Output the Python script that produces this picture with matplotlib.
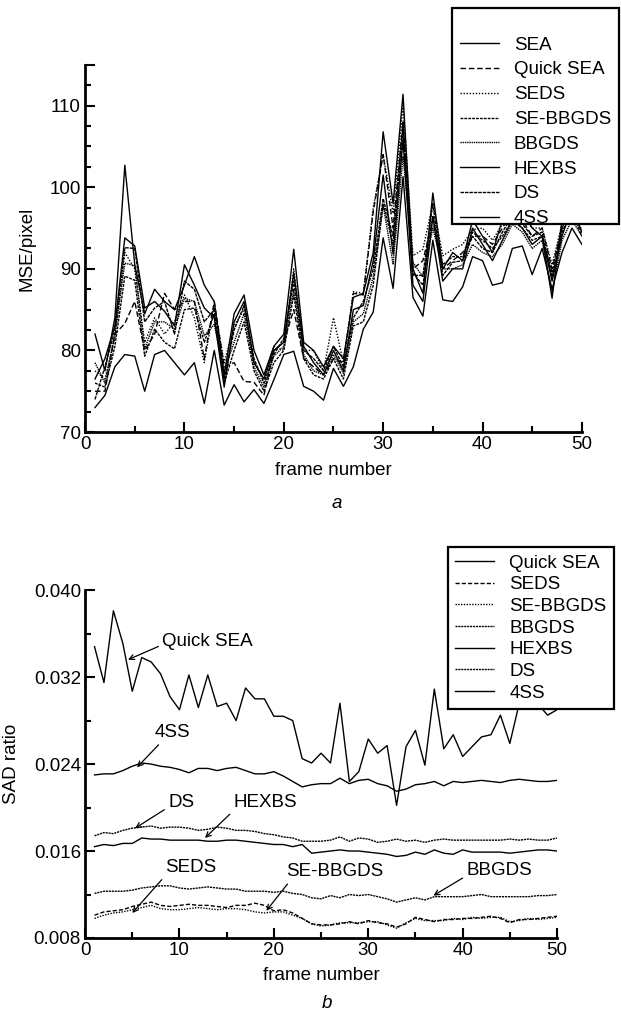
#!/usr/bin/env python3
# -*- coding: utf-8 -*-
import matplotlib
matplotlib.use('Agg')
import matplotlib.pyplot as plt
from matplotlib.patches import Rectangle
from matplotlib.ticker import MultipleLocator

plt.rcParams['font.family'] = ['Liberation Sans', 'DejaVu Sans']
plt.rcParams['font.size'] = 13.5

frames = list(range(1, 51))

# --- panel a: MSE/pixel per frame
mse_labels = ['SEA', 'Quick SEA', 'SEDS', 'SE-BBGDS', 'BBGDS', 'HEXBS', 'DS', '4SS']

mse_sea = [73.0, 74.5, 78.0, 79.5, 79.3, 75.0, 79.5, 80.0, 78.5, 77.0,
           78.5, 73.5, 80.0, 73.3, 75.8, 73.7, 75.2, 73.5, 76.4, 79.5,
           79.9, 75.6, 75.0, 73.9, 77.8, 75.6, 78.0, 82.6, 84.7, 93.8,
           87.6, 101.3, 86.5, 84.2, 93.5, 86.2, 86.0, 87.8, 91.5, 91.0,
           88.0, 88.3, 92.5, 92.8, 89.3, 92.5, 87.5, 92.0, 95.0, 93.0]
mse_quick_sea = [75.0, 75.0, 82.0, 83.3, 86.0, 80.0, 82.0, 87.0, 85.0, 86.0,
                 86.0, 79.0, 86.0, 78.0, 78.5, 76.2, 76.1, 74.5, 80.0, 81.0,
                 85.0, 79.0, 78.0, 77.0, 79.0, 78.5, 87.0, 86.8, 97.0, 104.0,
                 95.0, 108.0, 90.0, 91.0, 96.0, 90.0, 91.0, 92.0, 94.0, 94.0,
                 93.0, 95.0, 97.0, 96.0, 94.0, 95.0, 90.0, 95.0, 97.0, 95.0]
mse_seds = [77.5, 76.5, 81.5, 92.0, 90.0, 81.0, 84.0, 82.0, 83.5, 86.8,
            84.0, 78.5, 85.5, 78.5, 83.0, 85.0, 78.5, 76.5, 80.5, 80.0,
            90.0, 80.0, 80.0, 77.5, 84.0, 78.5, 87.2, 87.0, 97.5, 104.0,
            96.8, 110.0, 91.6, 92.4, 98.0, 91.6, 92.4, 93.0, 94.8, 95.0,
            93.5, 95.5, 97.0, 96.5, 95.0, 95.0, 90.5, 95.5, 98.0, 95.5]
mse_se_bbgds = [76.0, 75.5, 80.5, 89.1, 88.6, 79.3, 82.6, 81.0, 80.2, 85.0,
                85.2, 81.0, 84.5, 76.0, 80.0, 83.5, 77.5, 75.0, 78.5, 80.0,
                86.8, 79.0, 77.0, 76.5, 79.0, 76.5, 83.0, 83.5, 88.0, 98.0,
                93.0, 107.0, 89.5, 88.0, 96.5, 90.5, 91.5, 91.5, 94.5, 93.5,
                92.5, 94.0, 96.0, 95.0, 93.5, 94.0, 89.5, 95.0, 97.5, 94.5]
mse_bbgds = [78.5, 76.0, 82.0, 90.7, 90.4, 80.2, 83.5, 83.5, 82.6, 86.4,
             86.0, 81.8, 83.2, 77.5, 81.0, 84.5, 78.0, 75.5, 79.3, 80.5,
             87.5, 79.5, 77.5, 77.0, 79.5, 77.2, 83.5, 84.5, 89.0, 97.8,
             90.6, 103.8, 90.8, 89.0, 95.0, 90.0, 90.0, 90.5, 93.0, 92.0,
             91.5, 93.0, 95.5, 94.5, 92.5, 93.5, 87.0, 93.5, 96.0, 94.0]
mse_hexbs = [76.5, 79.0, 83.0, 93.8, 92.8, 85.2, 86.0, 84.8, 83.0, 90.5,
             88.0, 85.2, 84.0, 75.5, 83.5, 86.0, 78.5, 76.5, 80.0, 81.0,
             89.5, 80.5, 78.5, 77.0, 80.0, 77.5, 85.0, 85.5, 91.0, 101.5,
             91.8, 105.8, 88.0, 86.0, 96.4, 88.5, 90.0, 90.0, 95.0, 93.0,
             91.0, 93.5, 96.0, 95.0, 93.0, 94.0, 88.5, 94.0, 97.5, 94.5]
mse_ds = [74.0, 78.0, 82.5, 92.6, 92.5, 83.5, 85.2, 86.0, 82.0, 88.5,
          87.5, 83.5, 85.0, 76.5, 82.5, 85.5, 79.0, 76.0, 79.5, 81.5,
          88.5, 80.0, 79.0, 77.5, 80.5, 78.0, 84.0, 86.0, 90.0, 98.6,
          94.0, 107.9, 89.2, 89.2, 98.0, 89.2, 90.8, 91.0, 94.0, 92.5,
          92.0, 94.5, 96.5, 95.5, 94.0, 94.5, 89.0, 94.5, 97.0, 94.0]
mse_4ss = [82.0, 77.5, 84.0, 102.7, 90.5, 84.5, 87.5, 86.0, 85.0, 88.0,
           91.5, 88.0, 86.0, 77.0, 84.5, 86.8, 80.0, 77.0, 80.5, 82.0,
           92.4, 81.0, 80.0, 78.0, 80.5, 79.0, 86.5, 87.0, 92.0, 106.8,
           98.0, 111.4, 90.0, 87.0, 99.3, 90.0, 92.0, 91.0, 96.0, 94.0,
           92.0, 96.0, 98.0, 97.0, 95.0, 94.0, 86.4, 96.0, 99.0, 96.0]

# --- panel b: SAD ratio per frame
sad_labels = ['Quick SEA', 'SEDS', 'SE-BBGDS', 'BBGDS', 'HEXBS', 'DS', '4SS']

sad_quick_sea = [0.0348, 0.0315, 0.0381, 0.0351, 0.0307, 0.0338, 0.0334, 0.0323, 0.0302, 0.0290,
                 0.0322, 0.0292, 0.0322, 0.0293, 0.0296, 0.0280, 0.0310, 0.0300, 0.0300, 0.0284,
                 0.0284, 0.0280, 0.0245, 0.0241, 0.0250, 0.0241, 0.0296, 0.0224, 0.0233, 0.0263,
                 0.0250, 0.0257, 0.0202, 0.0256, 0.0271, 0.0239, 0.0309, 0.0254, 0.0267, 0.0247,
                 0.0256, 0.0265, 0.0267, 0.0285, 0.0259, 0.0296, 0.0310, 0.0295, 0.0285, 0.0290]
sad_seds = [0.0101, 0.0104, 0.0105, 0.0106, 0.0109, 0.0111, 0.0113, 0.0110, 0.0109, 0.0110,
            0.0111, 0.0110, 0.0110, 0.0109, 0.0108, 0.0110, 0.0110, 0.0112, 0.0110, 0.0105,
            0.0106, 0.0103, 0.0098, 0.0093, 0.0092, 0.0092, 0.0093, 0.0095, 0.0093, 0.0096,
            0.0094, 0.0093, 0.0090, 0.0093, 0.0099, 0.0097, 0.0095, 0.0097, 0.0097, 0.0098,
            0.0098, 0.0099, 0.0100, 0.0098, 0.0094, 0.0097, 0.0097, 0.0098, 0.0099, 0.0100]
sad_se_bbgds = [0.0098, 0.0101, 0.0103, 0.0104, 0.0106, 0.0108, 0.0110, 0.0107, 0.0106, 0.0106,
                0.0107, 0.0108, 0.0107, 0.0106, 0.0107, 0.0107, 0.0106, 0.0104, 0.0103, 0.0104,
                0.0104, 0.0101, 0.0098, 0.0093, 0.0091, 0.0092, 0.0094, 0.0094, 0.0094, 0.0095,
                0.0095, 0.0092, 0.0089, 0.0094, 0.0098, 0.0096, 0.0096, 0.0096, 0.0098, 0.0097,
                0.0099, 0.0098, 0.0099, 0.0099, 0.0095, 0.0096, 0.0098, 0.0097, 0.0098, 0.0099]
sad_bbgds = [0.0121, 0.0123, 0.0123, 0.0123, 0.0124, 0.0126, 0.0127, 0.0128, 0.0128, 0.0126,
             0.0125, 0.0126, 0.0127, 0.0126, 0.0125, 0.0125, 0.0123, 0.0123, 0.0123, 0.0122,
             0.0123, 0.0121, 0.0120, 0.0117, 0.0116, 0.0119, 0.0117, 0.0120, 0.0119, 0.0120,
             0.0118, 0.0116, 0.0113, 0.0115, 0.0117, 0.0115, 0.0118, 0.0118, 0.0118, 0.0118,
             0.0119, 0.0120, 0.0118, 0.0118, 0.0118, 0.0118, 0.0118, 0.0119, 0.0119, 0.0120]
sad_hexbs = [0.0164, 0.0166, 0.0165, 0.0167, 0.0167, 0.0172, 0.0171, 0.0171, 0.0170, 0.0170,
             0.0170, 0.0170, 0.0169, 0.0169, 0.0170, 0.0170, 0.0169, 0.0168, 0.0167, 0.0166,
             0.0166, 0.0164, 0.0166, 0.0158, 0.0159, 0.0160, 0.0161, 0.0160, 0.0160, 0.0159,
             0.0158, 0.0157, 0.0155, 0.0156, 0.0159, 0.0157, 0.0161, 0.0158, 0.0157, 0.0161,
             0.0159, 0.0159, 0.0159, 0.0159, 0.0158, 0.0159, 0.0160, 0.0161, 0.0161, 0.0160]
sad_ds = [0.0174, 0.0177, 0.0176, 0.0179, 0.0181, 0.0182, 0.0183, 0.0181, 0.0182, 0.0182,
          0.0181, 0.0179, 0.0180, 0.0182, 0.0181, 0.0179, 0.0179, 0.0178, 0.0176, 0.0175,
          0.0173, 0.0172, 0.0169, 0.0169, 0.0169, 0.0170, 0.0173, 0.0169, 0.0172, 0.0171,
          0.0168, 0.0169, 0.0171, 0.0169, 0.0170, 0.0168, 0.0170, 0.0171, 0.0170, 0.0170,
          0.0170, 0.0170, 0.0170, 0.0170, 0.0171, 0.0170, 0.0171, 0.0170, 0.0170, 0.0172]
sad_4ss = [0.0230, 0.0231, 0.0231, 0.0234, 0.0238, 0.0241, 0.0240, 0.0238, 0.0237, 0.0235,
           0.0232, 0.0236, 0.0236, 0.0234, 0.0236, 0.0237, 0.0234, 0.0231, 0.0231, 0.0233,
           0.0229, 0.0224, 0.0219, 0.0221, 0.0222, 0.0222, 0.0227, 0.0222, 0.0225, 0.0226,
           0.0222, 0.0220, 0.0215, 0.0217, 0.0221, 0.0222, 0.0224, 0.0220, 0.0224, 0.0223,
           0.0224, 0.0225, 0.0224, 0.0223, 0.0225, 0.0226, 0.0225, 0.0224, 0.0224, 0.0225]

mse_styles = ['-', (0, (4, 2)), (0, (1, 1.2)), (0, (2, 0.8)), (0, (1, 0.6)),
              '-', (0, (2.5, 0.7)), '-']
sad_styles = ['-', (0, (3, 1.5)), (0, (1, 1)), (0, (1.5, 0.6)), '-',
              (0, (1.5, 0.6)), '-']

# name, text centre, arrow tip (frame, value), arrow start on text box
sad_notes = [
    ('Quick SEA', (13.0, 0.0353), (4.55, 0.0336), (0.0, 0.3)),
    ('4SS', (9.3, 0.0269), (5.5, 0.0237), (0.2, 0.0)),
    ('DS', (10.2, 0.0205), (5.3, 0.0181), (0.0, 0.2)),
    ('HEXBS', (19.1, 0.0205), (12.7, 0.0172), (0.0, 0.0)),
    ('SEDS', (11.2, 0.0145), (5.0, 0.0103), (0.0, 0.0)),
    ('SE-BBGDS', (26.4, 0.0141), (19.2, 0.0105), (0.05, 0.0)),
    ('BBGDS', (43.9, 0.0142), (36.9, 0.0119), (0.0, 0.2)),
]


def style_axes(ax):
    for side in ('top', 'right'):
        ax.spines[side].set_visible(False)
    for side in ('left', 'bottom'):
        ax.spines[side].set_linewidth(2.0)
    ax.tick_params(which='both', direction='in', width=1.5, pad=3)
    ax.tick_params(which='major', length=7)
    ax.tick_params(which='minor', length=4)
    ax.xaxis.set_major_locator(MultipleLocator(10))
    ax.xaxis.set_minor_locator(MultipleLocator(5))
    ax.set_xlim(0, 50)
    ax.set_xlabel('frame number', labelpad=6)


def add_legend(ax, handles, labels, anchor, spacing, loc='upper right', frame=True):
    leg = ax.legend(handles, labels, loc=loc, bbox_to_anchor=anchor,
                    bbox_transform=ax.figure.transFigure, fancybox=False,
                    frameon=frame, framealpha=1, edgecolor='black',
                    handlelength=2.1, handletextpad=0.8, borderpad=0.4,
                    borderaxespad=0, labelspacing=spacing)
    if frame:
        leg.get_frame().set_linewidth(1.6)
    return leg


fig = plt.figure(figsize=(6.21, 10.17), dpi=100)

# panel a
ax1 = fig.add_axes([0.137, 0.5752, 0.800, 0.361])
mse_series = [mse_sea, mse_quick_sea, mse_seds, mse_se_bbgds, mse_bbgds,
              mse_hexbs, mse_ds, mse_4ss]
lines = []
for vals, ls in zip(mse_series, mse_styles):
    ln, = ax1.plot(frames, vals, color='black', lw=1.0, ls=ls)
    lines.append(ln)
style_axes(ax1)
ax1.set_ylim(70, 115)
ax1.set_yticks([70, 80, 90, 100, 110, 115], ['70', '80', '90', '100', '110', ''])
ax1.yaxis.set_minor_locator(MultipleLocator(2.5))
ax1.set_ylabel('MSE/pixel', labelpad=10)
# legend box of panel a has extra room above the first entry
box = Rectangle((452 / 621, 1 - 224 / 1017), 167 / 621, 216 / 1017,
                transform=fig.transFigure, facecolor='white', edgecolor='black',
                linewidth=1.6, clip_on=False, zorder=4.9)
ax1.add_patch(box)
add_legend(ax1, lines, mse_labels, (452 / 621, 1 - 29 / 1017), 0.41,
           loc='upper left', frame=False)

# panel b
ax2 = fig.add_axes([0.137, 0.0777, 0.760, 0.342])
sad_series = [sad_quick_sea, sad_seds, sad_se_bbgds, sad_bbgds, sad_hexbs,
              sad_ds, sad_4ss]
lines = []
for vals, ls in zip(sad_series, sad_styles):
    ln, = ax2.plot(frames, vals, color='black', lw=1.0, ls=ls)
    lines.append(ln)
style_axes(ax2)
ax2.set_ylim(0.008, 0.040)
ax2.set_yticks([0.008, 0.016, 0.024, 0.032, 0.040],
               ['0.008', '0.016', '0.024', '0.032', '0.040'])
ax2.yaxis.set_minor_locator(MultipleLocator(0.004))
ax2.set_ylabel('SAD ratio', labelpad=10)
for name, txt, tip, rel in sad_notes:
    ax2.annotate(name, xy=tip, xytext=txt, ha='center', va='center',
                 arrowprops=dict(arrowstyle='->', color='black', lw=0.9,
                                 relpos=rel, shrinkA=1, shrinkB=0,
                                 mutation_scale=9))
add_legend(ax2, lines, sad_labels, (0.989, 0.462), 0.24)

fig.text(337 / 621, 1 - 503 / 1017, 'a', style='italic', ha='center', va='center')
fig.text(327 / 621, 1 - 1003 / 1017, 'b', style='italic', ha='center', va='center')

fig.savefig('out.png', dpi=100)
